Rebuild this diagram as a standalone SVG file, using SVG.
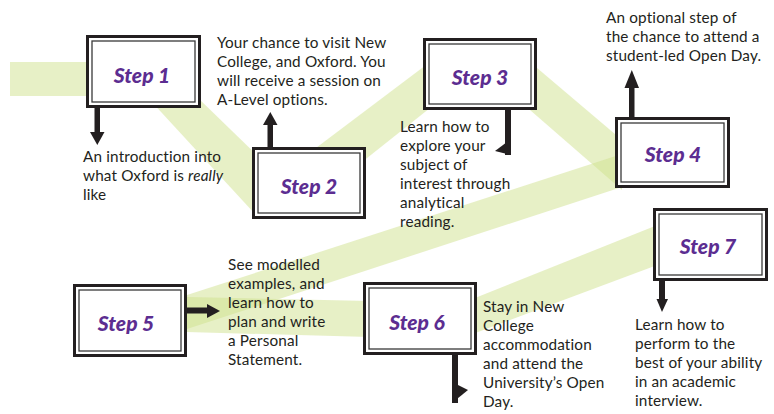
<svg xmlns="http://www.w3.org/2000/svg" width="774" height="414" viewBox="0 0 774 414">
<style>
.band{fill:#cfe28d;fill-opacity:0.5}
.outer{fill:#fff;stroke:#231f20;stroke-width:3}
.inner{fill:none;stroke:#3a3a3a;stroke-width:1.3}
.step{font-family:"Lato","Liberation Sans",sans-serif;font-weight:900;font-style:italic;font-size:21px;fill:#5c2d91;text-anchor:middle}
.desc{font-family:"Lato","Liberation Sans",sans-serif;font-size:15.3px;letter-spacing:0.15px;fill:#231f20}
.arr{fill:#231f20}
</style>
<g id="bands">
<polygon class="band" points="10,62 100,62 100,96 10,96"/>
<polygon class="band" points="150,100 196,96 262,160 255,214"/>
<polygon class="band" points="300,160 430,62 430,108 352,170"/>
<polygon class="band" points="530,62 622,140 622,190 530,110"/>
<polygon class="band" points="187,295 622,154 622,187 187,329"/>
<polygon class="band" points="187,297 370,301 370,337 187,332"/>
<polygon class="band" points="470,300 660,224 660,264 470,335"/>
</g>
<g id="connectors">
<rect class="arr" x="94.5" y="107" width="5.5" height="26"/>
<polygon class="arr" points="90,132 104.5,132 97.3,145"/>
<rect class="arr" x="267.5" y="124" width="5.5" height="24"/>
<polygon class="arr" points="263,125 277.5,125 270.3,112"/>
<rect class="arr" x="505" y="109" width="6" height="46"/>
<polygon class="arr" points="511,139 511,155 495,151"/>
<rect class="arr" x="629" y="87" width="5.5" height="31"/>
<polygon class="arr" points="624.5,88 639,88 631.8,70"/>
<rect class="arr" x="186" y="307.5" width="22" height="6"/>
<polygon class="arr" points="207,304 207,318 220,311"/>
<rect class="arr" x="452" y="354" width="6" height="49"/>
<polygon class="arr" points="452,382 468,390 452,403"/>
<rect class="arr" x="659" y="280" width="6" height="21"/>
<polygon class="arr" points="656.5,299 668,299 662,312"/>
</g>
<g id="step1">
<rect class="outer" x="87.5" y="36.5" width="112" height="70"/>
<rect class="inner" x="92" y="41" width="103" height="61"/>
<text class="step" x="142" y="83">Step 1</text>
<text class="desc" x="83" y="162">An introduction into</text>
<text class="desc" x="83" y="181">what Oxford is <tspan font-style="italic">really</tspan></text>
<text class="desc" x="83" y="200">like</text>
</g>
<g id="step2">
<rect class="outer" x="253.5" y="148.5" width="111" height="69"/>
<rect class="inner" x="258" y="153" width="102" height="60"/>
<text class="step" x="309" y="194">Step 2</text>
<text class="desc" x="217" y="48">Your chance to visit New</text>
<text class="desc" x="217" y="67">College, and Oxford. You</text>
<text class="desc" x="217" y="86">will receive a session on</text>
<text class="desc" x="217" y="105">A-Level options.</text>
</g>
<g id="step3">
<rect class="outer" x="424.5" y="39.5" width="111" height="69"/>
<rect class="inner" x="429" y="44" width="102" height="60"/>
<text class="step" x="480" y="85">Step 3</text>
<text class="desc" x="400" y="132">Learn how to</text>
<text class="desc" x="400" y="151">explore your</text>
<text class="desc" x="400" y="170">subject of</text>
<text class="desc" x="400" y="189">interest through</text>
<text class="desc" x="400" y="208">analytical</text>
<text class="desc" x="400" y="227">reading.</text>
</g>
<g id="step4">
<rect class="outer" x="616.5" y="118.5" width="112" height="68"/>
<rect class="inner" x="621" y="123" width="103" height="59"/>
<text class="step" x="673" y="162">Step 4</text>
<text class="desc" x="606" y="23">An optional step of</text>
<text class="desc" x="606" y="42">the chance to attend a</text>
<text class="desc" x="606" y="61">student-led Open Day.</text>
</g>
<g id="step5">
<rect class="outer" x="74.5" y="285.5" width="111" height="70"/>
<rect class="inner" x="79" y="290" width="102" height="61"/>
<text class="step" x="126" y="331">Step 5</text>
<text class="desc" x="228" y="270">See modelled</text>
<text class="desc" x="228" y="289">examples, and</text>
<text class="desc" x="228" y="308">learn how to</text>
<text class="desc" x="228" y="327">plan and write</text>
<text class="desc" x="228" y="346">a Personal</text>
<text class="desc" x="228" y="365">Statement.</text>
</g>
<g id="step6">
<rect class="outer" x="364.5" y="283.5" width="111" height="70"/>
<rect class="inner" x="369" y="288" width="102" height="61"/>
<text class="step" x="417" y="330">Step 6</text>
<text class="desc" x="483" y="312">Stay in New</text>
<text class="desc" x="483" y="331">College</text>
<text class="desc" x="483" y="350">accommodation</text>
<text class="desc" x="483" y="369">and attend the</text>
<text class="desc" x="483" y="388">University’s Open</text>
<text class="desc" x="483" y="407">Day.</text>
</g>
<g id="step7">
<rect class="outer" x="654.5" y="209.5" width="112" height="70"/>
<rect class="inner" x="659" y="214" width="103" height="61"/>
<text class="step" x="708" y="254">Step 7</text>
<text class="desc" x="635" y="330">Learn how to</text>
<text class="desc" x="635" y="349">perform to the</text>
<text class="desc" x="635" y="368">best of your ability</text>
<text class="desc" x="635" y="387">in an academic</text>
<text class="desc" x="635" y="406">interview.</text>
</g>
</svg>
